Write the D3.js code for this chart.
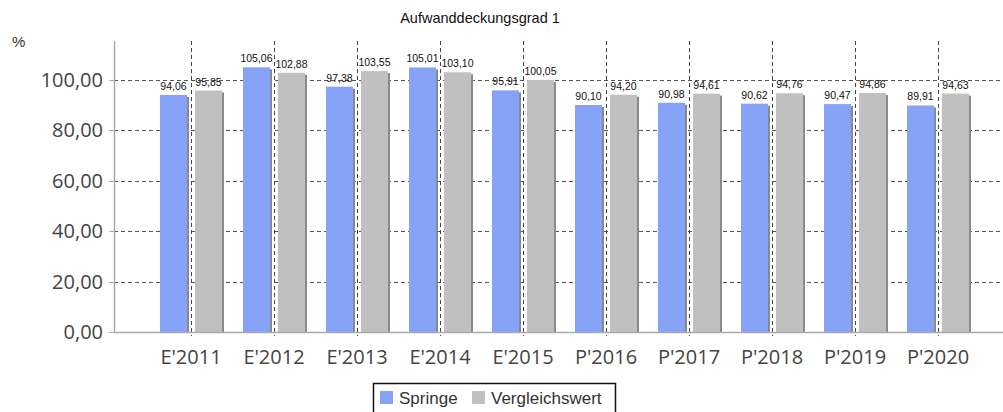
<!DOCTYPE html>
<html><head><meta charset="utf-8">
<script src="https://cdn.jsdelivr.net/npm/d3@7"></script>
<style>body{margin:0;background:#fff}svg{display:block}</style>
</head><body>
<script>
const categories = ["E'2011","E'2012","E'2013","E'2014","E'2015","P'2016","P'2017","P'2018","P'2019","P'2020"];
const springe = [94.06,105.06,97.38,105.01,95.91,90.10,90.98,90.62,90.47,89.91];
const vergleich = [95.85,102.88,103.55,103.10,100.05,94.20,94.61,94.76,94.86,94.63];
const yTicks = [0,20,40,60,80,100];
const seriesNames = ["Springe","Vergleichswert"];
const colors = ["#87a3f7","#c0c0c0"];

const W=1003,H=412;
const svg=d3.select("body").append("svg").attr("width",W).attr("height",H);
const pL=114,pR=1000,pT=41,pB=332;
const x=d3.scalePoint().domain(categories).range([191,938]);
const y=d3.scaleLinear().domain([0,115.5]).range([pB,pT]);
const fmt=v=>d3.format(".2f")(v).replace(".",",");

svg.append("text").attr("x",480).attr("y",23).attr("text-anchor","middle")
 .attr("font-family","Liberation Sans, Arial, sans-serif").attr("font-size",14.5).attr("fill","#111").text("Aufwanddeckungsgrad 1");
svg.append("text").attr("x",12).attr("y",47).attr("font-family","Liberation Sans, Arial, sans-serif")
 .attr("font-size",15).attr("fill","#333").text("%");

svg.append("g").selectAll("line").data(yTicks.filter(d=>d>0)).join("line")
 .attr("x1",pL).attr("x2",pR).attr("y1",d=>Math.round(y(d))+0.5).attr("y2",d=>Math.round(y(d))+0.5)
 .attr("stroke","#555").attr("stroke-dasharray","4,3");
svg.append("g").selectAll("line").data(categories).join("line")
 .attr("x1",d=>Math.round(x(d))+0.5).attr("x2",d=>Math.round(x(d))+0.5).attr("y1",pT).attr("y2",pB+4)
 .attr("stroke","#444").attr("stroke-dasharray","4,3");

const data=categories.map((c,i)=>({c,v:[springe[i],vergleich[i]]}));
const offs=[-31,4], bw=27;
const g=svg.append("g");
data.forEach(d=>{
  d.v.forEach((v,k)=>{
    const bx=Math.round(x(d.c))+offs[k];
    g.append("rect").attr("x",bx+2).attr("y",y(v)+2).attr("width",bw).attr("height",pB-y(v)-2).attr("fill","#8a8a8a");
    g.append("rect").attr("x",bx).attr("y",y(v)).attr("width",bw).attr("height",pB-y(v)).attr("fill",colors[k]);
    g.append("text").attr("x",bx+bw/2).attr("y",y(v)-5).attr("text-anchor","middle")
     .attr("font-family","Liberation Sans, Arial, sans-serif").attr("font-size",10.5).attr("fill","#111").text(fmt(v));
  });
});

svg.append("line").attr("x1",pL+0.5).attr("x2",pL+0.5).attr("y1",pT).attr("y2",pB).attr("stroke","#aaa").attr("stroke-width",1.5);
svg.append("line").attr("x1",pL).attr("x2",pR+3).attr("y1",pB+0.5).attr("y2",pB+0.5).attr("stroke","#aaa").attr("stroke-width",1.5);
svg.append("g").selectAll("line").data(yTicks).join("line").attr("x1",pL-5).attr("x2",pL)
 .attr("y1",d=>Math.round(y(d))+0.5).attr("y2",d=>Math.round(y(d))+0.5).attr("stroke","#aaa");

svg.append("g").selectAll("text").data(yTicks).join("text").attr("x",103).attr("y",d=>y(d)+7)
 .attr("text-anchor","end").attr("font-family","Open Sans, sans-serif").attr("font-size",20).attr("fill","#444").text(fmt);
svg.append("g").selectAll("text").data(categories).join("text").attr("x",d=>x(d)).attr("y",364)
 .attr("text-anchor","middle").attr("font-family","Open Sans, sans-serif").attr("font-size",20).attr("fill","#444").text(d=>d);

const lg=svg.append("g");
lg.append("rect").attr("x",373.5).attr("y",383.5).attr("width",242).attr("height",30).attr("fill","#fff").attr("stroke","#111").attr("stroke-width",1.5);
const lx=[380,472];
seriesNames.forEach((n,k)=>{
  lg.append("rect").attr("x",lx[k]).attr("y",391).attr("width",13).attr("height",13).attr("fill",colors[k]);
  lg.append("text").attr("x",lx[k]+19).attr("y",404).attr("font-family","Liberation Sans, Arial, sans-serif")
   .attr("font-size",17).attr("fill","#333").text(n);
});
</script>
</body></html>
